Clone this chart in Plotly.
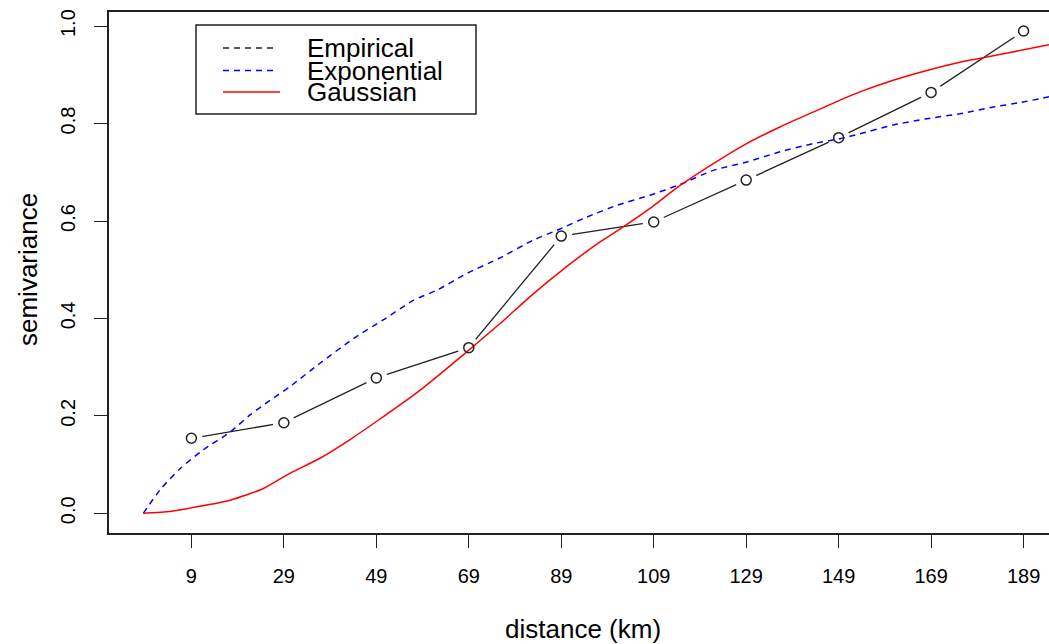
import plotly.graph_objects as go

# ---------------- data ----------------
lag_km = [10.4, 30.4, 50.4, 70.4, 90.4, 110.4, 130.4, 150.4, 170.4, 190.4]
lag_labels = ["9", "29", "49", "69", "89", "109", "129", "149", "169", "189"]
empirical_semivariance = [0.154, 0.186, 0.278, 0.340, 0.569, 0.598, 0.684, 0.771, 0.864, 0.990]

exp_distance = [0, 3.6, 8.0, 12.9, 18.8, 23.1, 27.4, 31.7, 38.2, 45.5, 51.9, 58.4, 63.5,
                69.9, 77.1, 84.4, 89.5, 95.9, 102.4, 109.6, 116.1, 123.3, 130.5, 137.7,
                145.0, 150.7, 155.0, 162.2, 169.5, 176.6, 183.9, 189.6, 195.9]
exp_semivariance = [0, 0.048, 0.092, 0.130, 0.167, 0.202, 0.232, 0.260, 0.308, 0.359, 0.397,
                    0.437, 0.458, 0.492, 0.524, 0.561, 0.581, 0.608, 0.632, 0.653, 0.675,
                    0.704, 0.721, 0.742, 0.759, 0.769, 0.779, 0.797, 0.810, 0.820, 0.834,
                    0.843, 0.855]

gau_distance = [0, 5.1, 13.7, 18.8, 26.0, 31.7, 38.2, 44.8, 50.8, 59.9, 69.9, 77.1, 84.4,
                91.5, 98.8, 103.8, 109.6, 116.1, 123.3, 130.5, 137.7, 145.0, 150.7, 155.0,
                162.2, 169.5, 176.6, 181.7, 187.5, 195.9]
gau_semivariance = [0, 0.003, 0.017, 0.027, 0.051, 0.082, 0.113, 0.152, 0.191, 0.253, 0.331,
                    0.389, 0.451, 0.506, 0.557, 0.588, 0.626, 0.673, 0.718, 0.759, 0.793,
                    0.824, 0.848, 0.865, 0.889, 0.909, 0.926, 0.935, 0.946, 0.962]

y_ticks = [0.0, 0.2, 0.4, 0.6, 0.8, 1.0]
y_tick_labels = ["0.0", "0.2", "0.4", "0.6", "0.8", "1.0"]

legend_names = ["Empirical", "Exponential", "Gaussian"]
legend_colors = ["#222222", "#0000FF", "#FF0000"]
legend_dashes = ["dash", "dash", "solid"]

# ---------------- layout geometry ----------------
W, H = 1049, 644
L, R, T, B = 109, 0, 12, 111
PW, PH = W - L - R, H - T - B
FONT = "Arial, Liberation Sans, sans-serif"


def px(x):
    return (x - L) / PW


def py(y):
    return (H - B - y) / PH


fig = go.Figure()

# empirical line (gaps around points emulated by white disks)
fig.add_trace(go.Scatter(x=lag_km, y=empirical_semivariance, mode="lines",
                         line=dict(color="#222222", width=1.3), hoverinfo="skip"))
fig.add_trace(go.Scatter(x=lag_km, y=empirical_semivariance, mode="markers",
                         marker=dict(symbol="circle", size=22, color="white",
                                     line=dict(width=0)), hoverinfo="skip"))
# model curves
fig.add_trace(go.Scatter(x=exp_distance, y=exp_semivariance, mode="lines",
                         line=dict(color="#0000FF", width=1.5, dash="6px,5px",
                                   shape="spline", smoothing=0.6)))
fig.add_trace(go.Scatter(x=gau_distance, y=gau_semivariance, mode="lines",
                         line=dict(color="#FF0000", width=1.5,
                                   shape="spline", smoothing=0.6)))
# empirical points
fig.add_trace(go.Scatter(x=lag_km, y=empirical_semivariance, mode="markers",
                         marker=dict(symbol="circle-open", size=10, color="#222222",
                                     line=dict(width=1.5, color="#222222"))))

shapes = []
annotations = []
# legend box
shapes.append(dict(type="rect", xref="paper", yref="paper",
                   x0=px(196), x1=px(476), y0=py(114), y1=py(25),
                   line=dict(color="#222222", width=1.5), fillcolor="white"))
leg_y = [48, 70.5, 92]
for name, col, dsh, yy in zip(legend_names, legend_colors, legend_dashes, leg_y):
    x_end = 275 if dsh == "dash" else 280
    shapes.append(dict(type="line", xref="paper", yref="paper",
                       x0=px(223), x1=px(x_end), y0=py(yy), y1=py(yy),
                       line=dict(color=col, width=1.5,
                                 dash="6px,5px" if dsh == "dash" else "solid")))
    annotations.append(dict(text=name, xref="paper", yref="paper",
                            x=px(305), y=py(yy + 0.5), xanchor="left", yanchor="middle",
                            showarrow=False, font=dict(family=FONT, size=26, color="black")))

# axis titles
annotations.append(dict(text="distance (km)", xref="paper", yref="paper",
                        x=px(583), y=py(629), xanchor="center", yanchor="middle",
                        showarrow=False, font=dict(family=FONT, size=26, color="black")))
annotations.append(dict(text="semivariance", xref="paper", yref="paper",
                        x=px(28), y=py(270), xanchor="center", yanchor="middle",
                        textangle=-90, showarrow=False,
                        font=dict(family=FONT, size=26, color="black")))

fig.update_layout(
    width=W, height=H,
    margin=dict(l=L, r=R, t=T, b=B, pad=0),
    plot_bgcolor="white", paper_bgcolor="white",
    showlegend=False,
    shapes=shapes, annotations=annotations,
    font=dict(family=FONT, color="black"),
    xaxis=dict(range=[-7.42, 195.9], showgrid=False, zeroline=False,
               showline=True, mirror=True, linecolor="#222222", linewidth=1.5,
               ticks="outside", ticklen=13, tickwidth=1.3, tickcolor="#222222",
               tickvals=lag_km, ticktext=lag_labels,
               tickfont=dict(family=FONT, size=20, color="black"),
               ticklabelstandoff=11),
    yaxis=dict(range=[-0.0404, 1.029], showgrid=False, zeroline=False,
               showline=True, mirror=False, linecolor="#222222", linewidth=1.5,
               ticks="outside", ticklen=13, tickwidth=1.3, tickcolor="#222222",
               tickvals=y_ticks, ticktext=y_tick_labels, tickangle=-90,
               tickfont=dict(family=FONT, size=20, color="black"),
               ticklabelstandoff=11),
)

fig.write_html("out.html",
               config={"displayModeBar": False},
               post_script="document.body.style.margin='0';document.body.style.overflow='hidden';")
